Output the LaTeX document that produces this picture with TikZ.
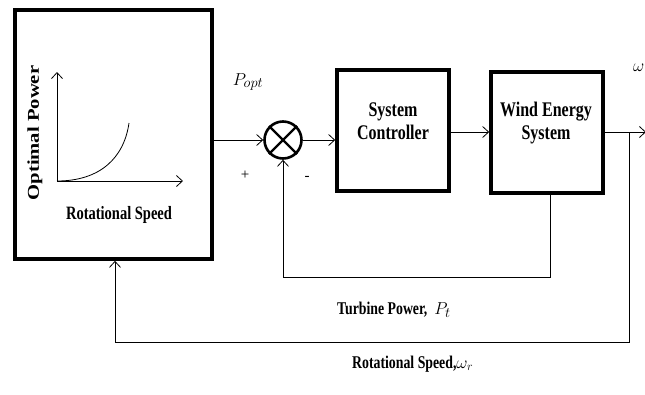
\documentclass[tikz,border=0pt]{standalone}
\usepackage{fontspec}
\setmainfont{Liberation Serif}
\usetikzlibrary{arrows.meta}
\newcommand{\tl}[1]{\scalebox{1}[1.3]{#1}}
\begin{document}
\begin{tikzpicture}[x=1pt,y=-1pt,
  blk/.style={draw, line width=3.6pt, inner sep=0pt},
  con/.style={line width=0.8pt, -{Straight Barb[length=6pt,width=11pt,line width=0.8pt]}},
  wire/.style={line width=0.8pt},
  btxt/.style={font=\fontsize{16}{19}\selectfont\bfseries, align=center, inner sep=0pt},
  ltxt/.style={font=\fontsize{13.8}{16}\selectfont\bfseries, inner sep=0pt}]
\useasboundingbox (0,0) rectangle (645,394);
% boxes
\node[blk, minimum width=197pt, minimum height=249pt] (opt) at (113.5,134.5) {};
\node[blk, minimum width=112pt, minimum height=121pt] (sc) at (393,130.5) {};
\node[blk, minimum width=112pt, minimum height=121pt] (wes) at (547,132.5) {};
\node[draw, circle, line width=2.6pt, minimum size=37pt, inner sep=0pt] (sum) at (283,140) {};
\draw[line width=2.2pt] (sum.north west) -- (sum.south east) (sum.north east) -- (sum.south west);
% texts in boxes
\node[btxt] (sct) at (393,121) {\tl{System}\\[4pt]\tl{Controller}};
\node[btxt] (wet) at (546,123) {\tl{Wind Energy}\\[4pt]\tl{System}};
% graph inside left box
\coordinate (o) at (57,181);
\coordinate (ytop) at (57,72);
\coordinate (xend) at (183,181);
\coordinate (cend) at (129,123);
\draw[con] (o) -- (ytop);
\draw[con] (o) -- (xend);
\draw[wire] (o) .. controls (100,181) and (124,158) .. (cend);
\node[font=\fontsize{16.5}{18}\selectfont\bfseries, rotate=90, inner sep=0pt] (ylab) at (35,133) {\scalebox{1.25}[1]{Optimal Power}};
\node[font=\fontsize{14.5}{17}\selectfont\bfseries, inner sep=0pt] (xlab) at (119,215) {\tl{Rotational Speed}};
% connectors
\coordinate (optout) at (opt.east |- sum.west);
\draw[con] (optout) -- (sum.west);
\draw[con] (sum.east) -- (sc.west |- sum.east);
\draw[con] (sc.east |- 0,132) -- (wes.west |- 0,132);
\coordinate (wout) at (wes.east |- 0,132);
\coordinate (wend) at (646,132);
\coordinate (tap) at (629,132);
\draw[con] (wout) -- (wend);
\coordinate (fb1) at (550,277);
\coordinate (fb2) at (283,277);
\draw[wire] (550,193) -- (fb1) -- (fb2);
\draw[con] (fb2) -- (sum.south);
\coordinate (ob1) at (629,342);
\coordinate (ob2) at (115,342);
\draw[wire] (tap) -- (ob1) -- (ob2);
\draw[con] (ob2) -- (opt.south -| ob2);
% labels
\node[font=\fontsize{19}{21}\selectfont, inner sep=0pt] (popt) at (248,82) {$P_{opt}$};
\node[font=\fontsize{15}{17}\selectfont, inner sep=0pt] (plus) at (245,175) {+};
\node[font=\fontsize{15}{17}\selectfont, inner sep=0pt] (minus) at (307,178) {-};
\node[font=\fontsize{19}{21}\selectfont, anchor=east, inner sep=0pt] (wr) at (644.5,68) {$\omega$};
\node[ltxt, anchor=west] (tp) at (337,310) {\tl{Turbine Power,}~~\fontsize{19}{21}\selectfont$P_t$};
\node[ltxt, anchor=west] (rs) at (352,364) {\tl{Rotational Speed,}\fontsize{18}{21}\selectfont$\omega_r$};
\end{tikzpicture}
\end{document}
